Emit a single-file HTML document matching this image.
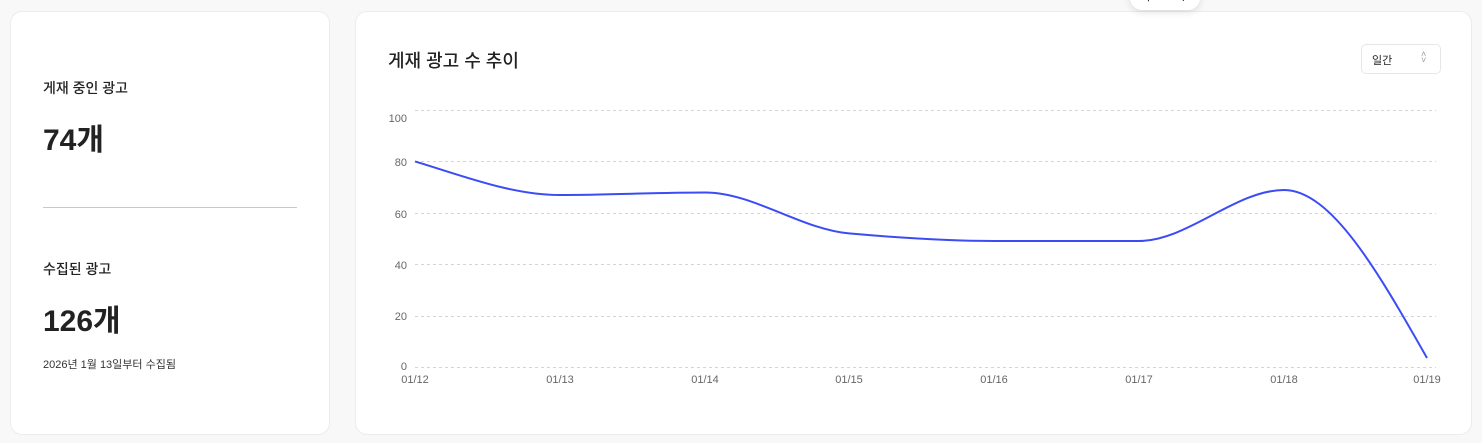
<!DOCTYPE html>
<html><head><meta charset="utf-8"><style>
body{margin:0;width:1482px;height:443px;background:#f8f8f9;font-family:"Liberation Sans","Noto Sans CJK KR",sans-serif;position:relative;overflow:hidden;color:#222}
.card{position:absolute;background:#fff;border:1px solid #ececef;border-radius:12px;box-sizing:border-box}
.t{position:absolute;white-space:nowrap}
</style></head><body>
<div class="card" style="left:10px;top:11px;width:320px;height:424px"></div>
<div class="card" style="left:355px;top:11px;width:1117px;height:424px"></div>
<div class="t" style="left:1130px;top:-14px;width:70px;height:24px;background:#fff;border-radius:12px;box-shadow:0 2px 8px rgba(0,0,0,.12);font-size:12px;line-height:12px;padding:4px 0 0 10px;box-sizing:border-box">다 &nbsp; &nbsp; &nbsp; 시</div>
<div class="t" style="left:43px;top:78px;font-size:14px;font-weight:500">게재 중인 광고</div>
<div class="t" style="left:43px;top:115px;font-size:30px;font-weight:bold">74개</div>
<div style="position:absolute;left:43px;top:207px;width:254px;height:1px;background:#c8c8d0"></div>
<div class="t" style="left:43px;top:259px;font-size:14px;font-weight:500">수집된 광고</div>
<div class="t" style="left:43px;top:296px;font-size:30px;font-weight:bold">126개</div>
<div class="t" style="left:43px;top:356px;font-size:11px;color:#333">2026년 1월 13일부터 수집됨</div>
<div class="t" style="left:388px;top:47px;font-size:18px;font-weight:500">게재 광고 수 추이</div>
<div style="position:absolute;left:1361px;top:44px;width:80px;height:30px;border:1px solid #e6e6ea;border-radius:5px;box-sizing:border-box"></div>
<div class="t" style="left:1372px;top:52px;font-size:11px">일간</div>
<div class="t" style="left:1421px;top:51px;font-size:9px;color:#999;line-height:6px">˄<br>˅</div>
<svg width="1482" height="443" style="position:absolute;left:0;top:0">
<g stroke="#d4d4d8" stroke-dasharray="3,3" stroke-width="1">
<line x1="415" x2="1436" y1="110.5" y2="110.5"/><line x1="415" x2="1436" y1="161.5" y2="161.5"/>
<line x1="415" x2="1436" y1="213.5" y2="213.5"/><line x1="415" x2="1436" y1="264.5" y2="264.5"/>
<line x1="415" x2="1436" y1="316.5" y2="316.5"/><line x1="415" x2="1436" y1="367.5" y2="367.5"/>
</g>
<g font-family="Liberation Sans, sans-serif" font-size="11" fill="#666" text-anchor="end">
<text x="407" y="122">100</text><text x="407" y="166">80</text><text x="407" y="218">60</text>
<text x="407" y="269">40</text><text x="407" y="320">20</text><text x="407" y="370">0</text>
</g>
<g font-family="Liberation Sans, sans-serif" font-size="11" fill="#666" text-anchor="middle">
<text x="415" y="383">01/12</text><text x="560" y="383">01/13</text><text x="705" y="383">01/14</text>
<text x="849" y="383">01/15</text><text x="994" y="383">01/16</text><text x="1139" y="383">01/17</text>
<text x="1284" y="383">01/18</text><text x="1427" y="383">01/19</text>
</g>
<path fill="none" stroke="#3b4cf6" stroke-width="2" d="M415,161.4 C463.3,175.9 511.7,195 560,195 C608.3,195 656.7,192.5 705,192.5 C753,192.5 801,229.2 849,233.4 C897.3,237.7 945.7,241 994,241 C1042.3,241 1090.7,241 1139,241 C1187.3,241 1235.7,190 1284,190 C1331.7,190 1379.3,274 1427,358"/>
</svg>
</body></html>
